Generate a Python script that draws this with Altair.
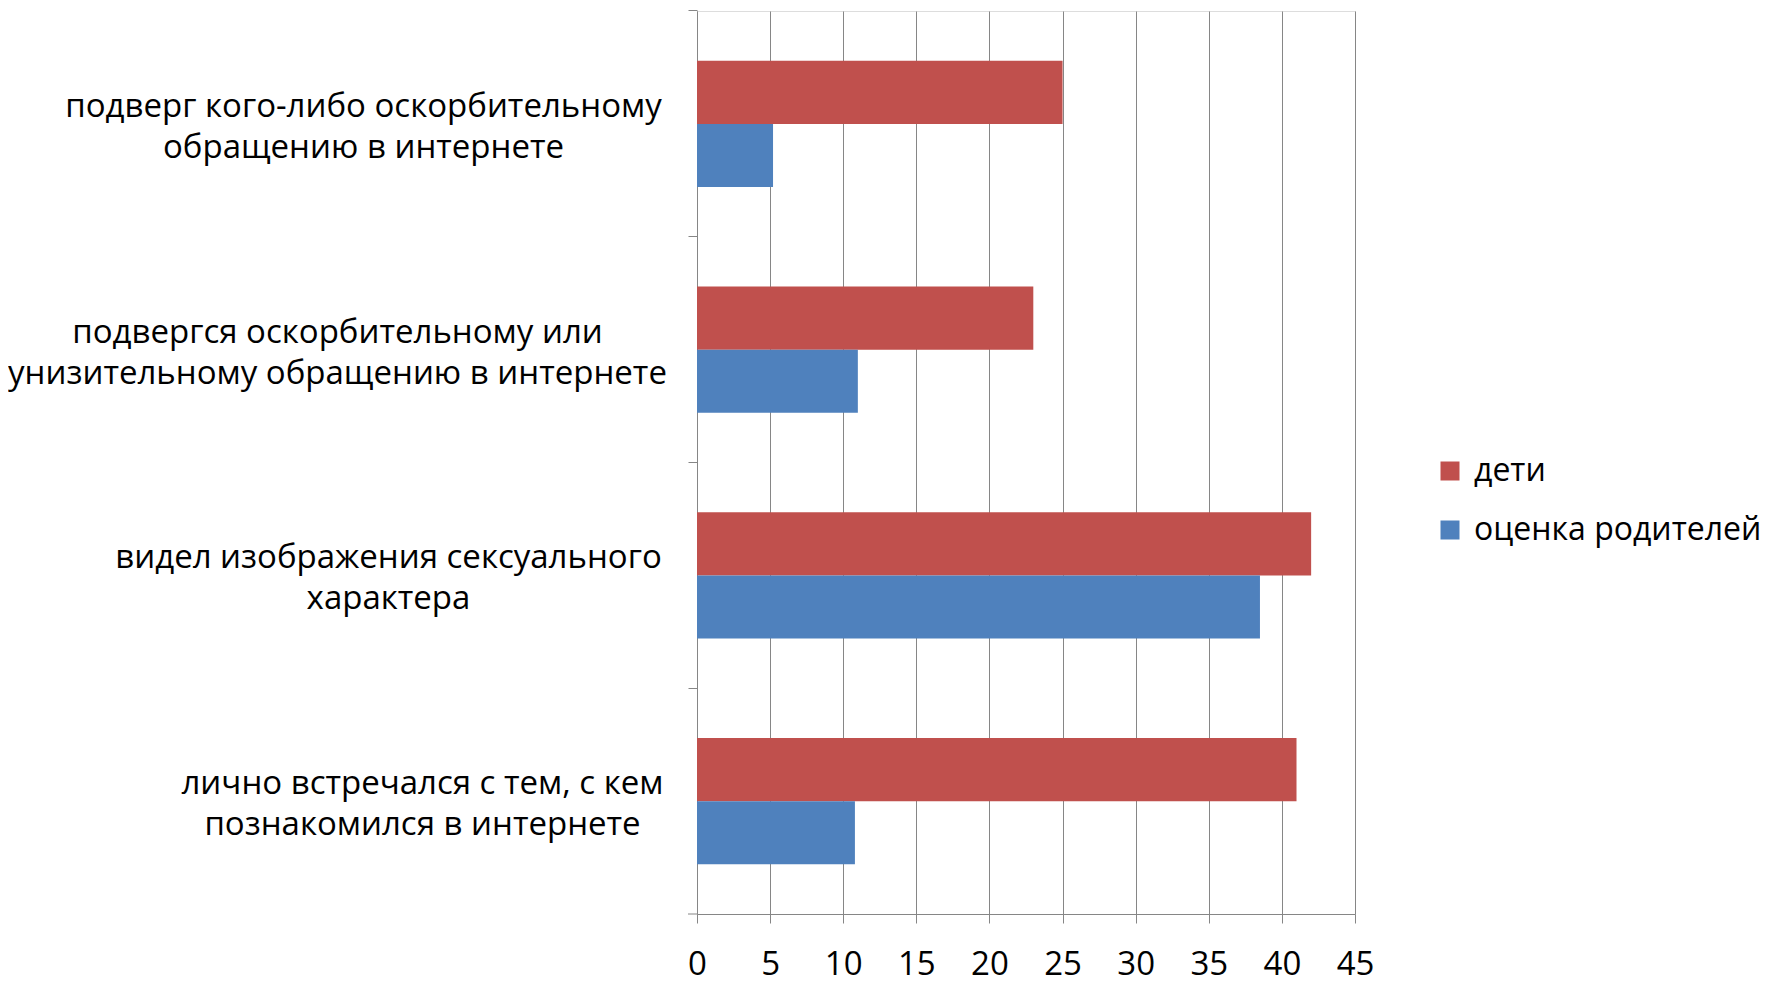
import json
import altair as alt
import pandas as pd

categories = [
    "подверг кого-либо оскорбительному\nобращению в интернете",
    "подвергся оскорбительному или\nунизительному обращению в интернете",
    "видел изображения сексуального\nхарактера",
    "лично встречался с тем, с кем\nпознакомился в интернете",
]
series = ["дети", "оценка родителей"]
children = [25, 23, 42, 41]
parents = [5.2, 11, 38.5, 10.8]
x_ticks = [0, 5, 10, 15, 20, 25, 30, 35, 40, 45]
colors = ["#C0504D", "#4F81BD"]

rows = []
for c, a, b in zip(categories, children, parents):
    rows.append({"cat": c, "series": series[0], "value": a})
    rows.append({"cat": c, "series": series[1], "value": b})
df = pd.DataFrame(rows)

W, H = 658, 903
FONT = "Open Sans"
FS = 33

# label blocks are right-justified, their lines centred on each other
half_widths = [297, 323, 272, 238]
pad_list = [28 + h for h in half_widths]
pad_expr = f"{json.dumps(pad_list)}[indexof({json.dumps(categories, ensure_ascii=False)}, datum.value)]"

bars = alt.Chart(df).mark_bar().encode(
    y=alt.Y("cat:N", sort=categories, title=None,
            scale=alt.Scale(paddingInner=0.44, paddingOuter=0.22),
            axis=alt.Axis(labelExpr="split(datum.label, '\\n')",
                          labelAlign="center", labelBaseline="middle",
                          labelPadding={"expr": pad_expr}, labelLineHeight=41,
                          labelOffset=-17,
                          labelFont=FONT, labelFontSize=FS, labelColor="#000000",
                          tickSize=9, tickColor="#868686", domainColor="#868686",
                          bandPosition=-0.3929, grid=False, labelLimit=900)),
    yOffset=alt.YOffset("series:N", sort=series,
                        scale=alt.Scale(paddingInner=0, paddingOuter=0)),
    x=alt.X("value:Q", title=None,
            scale=alt.Scale(domain=[0, 45], nice=False),
            axis=alt.Axis(values=x_ticks, grid=True, gridColor="#868686",
                          domainColor="#868686", tickColor="#868686", tickSize=9,
                          labelFont=FONT, labelFontSize=FS, labelColor="#000000",
                          labelFlush=False, labelPadding=25)),
    color=alt.Color("series:N", sort=series,
                    scale=alt.Scale(domain=series, range=colors),
                    legend=alt.Legend(title=None, orient="none", legendX=737, legendY=444,
                                      symbolType="square", symbolSize=361,
                                      symbolStrokeWidth=0, labelFont=FONT,
                                      labelFontSize=32, labelColor="#000000",
                                      labelOffset=8, rowPadding=27, labelLimit=600)),
)

corner = alt.Chart(pd.DataFrame({"v": [0]})).mark_rule(color="#868686").encode(
    x=alt.value(-9), x2=alt.value(0), y=alt.value(H)
)

chart = alt.layer(bars, corner).properties(
    width=W, height=H,
    autosize=alt.AutoSizeParams(type="none"),
    padding={"left": 689, "top": 3, "right": 405, "bottom": 70},
).configure_view(stroke=None).configure(background="white")

chart.save("out.html", embed_options={"renderer": "svg", "actions": False})
